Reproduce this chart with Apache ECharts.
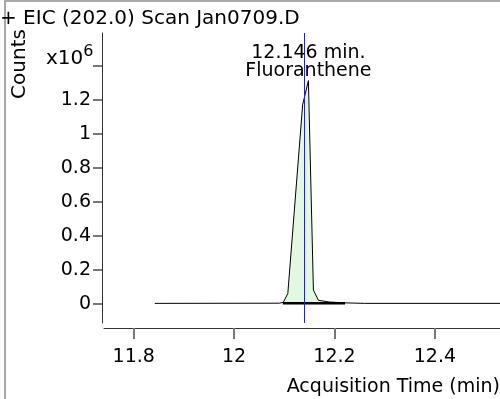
<!DOCTYPE html>
<html><head><meta charset="utf-8">
<script src="https://cdn.jsdelivr.net/npm/echarts@6/dist/echarts.min.js"></script>
<style>html,body{margin:0;padding:0;background:#fff}#c{width:500px;height:399px}</style>
</head><body><div id="c"></div>
<script>
// Acquisition time (min) and counts (x10^6)
const times  = [11.842, 12.090, 12.098, 12.107, 12.1365, 12.148, 12.158, 12.168, 12.190, 12.220, 12.260, 12.531];
const counts = [0.002, 0.003, 0.008, 0.060, 1.170, 1.312, 0.080, 0.020, 0.010, 0.005, 0.002, 0.002];
// integrated peak region (filled)
const peakTimes  = [12.098, 12.107, 12.1365, 12.148, 12.158, 12.168, 12.190, 12.220];
const peakCounts = [0.008, 0.060, 1.170, 1.312, 0.080, 0.020, 0.010, 0.005];
// integration baseline
const baseTimes  = [12.097, 12.221];
const baseCounts = [0.002, 0.002];
const markerTime = 12.140;
const peakLabel = ['12.146 min.', 'Fluoranthene'];
const xTicks = [11.8, 12, 12.2, 12.4];
const yTicks = [0, 0.2, 0.4, 0.6, 0.8, 1, 1.2, 1.4];
const yLabels = [0, 0.2, 0.4, 0.6, 0.8, 1, 1.2];

const FONT = 'DejaVu Sans';
const FS = 19;
const pairs = (a, b) => a.map((v, i) => [v, b[i]]);
const chart = echarts.init(document.getElementById('c'), null, {renderer: 'canvas'});
chart.setOption({
  animation: false,
  backgroundColor: '#fff',
  textStyle: {fontFamily: FONT},
  grid: {left: 104, right: 0, top: 33, bottom: 76, outerBoundsMode: 'none', containLabel: false},
  xAxis: {
    type: 'value', min: 11.7408, max: 12.5297, offset: 5,
    axisLine: {onZero: false, lineStyle: {color: '#333', width: 1}},
    axisTick: {show: true, length: 11, customValues: xTicks, lineStyle: {color: '#777', width: 2}},
    axisLabel: {customValues: xTicks, fontFamily: FONT, fontSize: FS, color: '#000', margin: 20},
    splitLine: {show: false}
  },
  yAxis: {
    type: 'value', min: -0.1135, max: 1.592, offset: 2,
    axisLine: {show: true, onZero: false, lineStyle: {color: '#333', width: 1}},
    axisTick: {show: true, length: 9, customValues: yTicks, lineStyle: {color: '#777', width: 2}},
    axisLabel: {customValues: yLabels, fontFamily: FONT, fontSize: FS, color: '#000', margin: 11},
    splitLine: {show: false}
  },
  graphic: [
    {type: 'rect', shape: {x: 5, y: 1, width: 500, height: 405}, style: {fill: null, stroke: '#a8a8a8', lineWidth: 2}, silent: true},
    {type: 'text', x: 0, y: 9, style: {text: '+ EIC (202.0) Scan Jan0709.D', font: '20px "DejaVu Sans"', fill: '#000'}},
    {type: 'text', x: 20, y: 64, rotation: Math.PI / 2, style: {text: 'Counts', font: '20px "DejaVu Sans"', fill: '#000', align: 'center', verticalAlign: 'middle'}},
    {type: 'text', x: 46, y: 44, style: {text: '{a|x10}{b|6}', rich: {a: {fontFamily: FONT, fontSize: 20, fill: '#000'}, b: {fontFamily: FONT, fontSize: 16, verticalAlign: 'bottom', padding: [0, 0, 14, 0], fill: '#000'}}}},
    {type: 'text', right: 0, top: 378, style: {text: 'Acquisition Time (min)', font: FS + 'px "DejaVu Sans"', fill: '#000'}}
  ],
  series: [
    {
      type: 'line', data: pairs(peakTimes, peakCounts), symbol: 'none', z: 1,
      lineStyle: {width: 0}, areaStyle: {color: '#e2f8e2', opacity: 1}
    },
    {
      type: 'line', data: pairs(baseTimes, baseCounts), symbol: 'none', z: 2,
      lineStyle: {color: '#000', width: 2.5}
    },
    {
      type: 'line', data: pairs(times, counts), symbol: 'none', z: 3,
      lineStyle: {color: '#000', width: 1},
      markLine: {
        symbol: 'none', silent: true, label: {show: false},
        lineStyle: {color: '#2626b0', width: 1, type: 'solid'},
        data: [{xAxis: markerTime}]
      },
      markPoint: {
        symbol: 'circle', symbolSize: 1, itemStyle: {color: 'rgba(0,0,0,0)'},
        label: {show: true, position: 'top', distance: 0, formatter: peakLabel.join('\n'), fontFamily: FONT, fontSize: FS, lineHeight: 18, color: '#000'},
        data: [{coord: [times[5], counts[5]]}]
      }
    }
  ]
});
</script></body></html>
